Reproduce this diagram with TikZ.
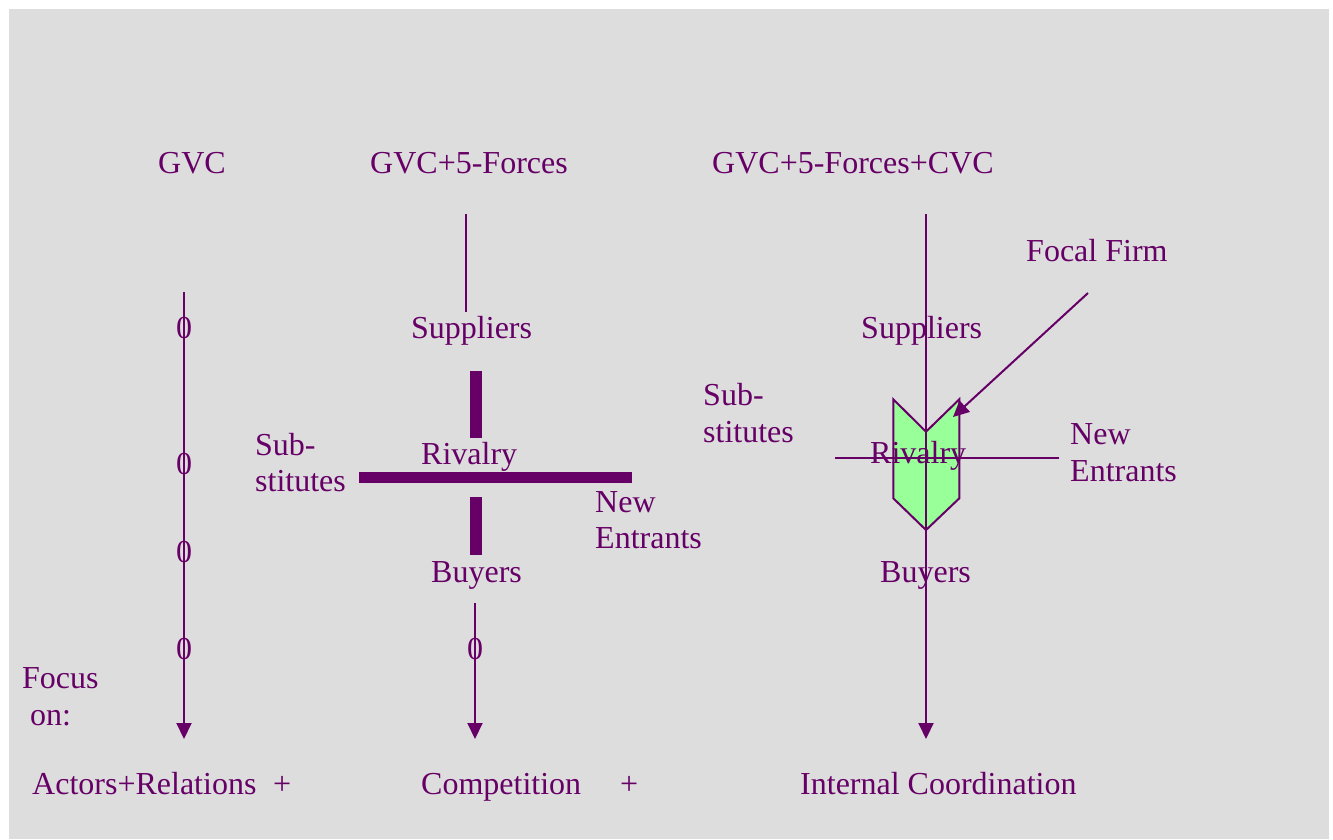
\documentclass[tikz,border=0pt]{standalone}
\usepackage{fontspec}
\setmainfont{Liberation Serif}
\usetikzlibrary{arrows.meta}
\definecolor{plum}{HTML}{660066}
\definecolor{panel}{HTML}{DDDDDD}
\definecolor{mint}{HTML}{99FF99}
\tikzset{
  lbl/.style={anchor=base west, inner sep=0pt, text=plum, font=\fontsize{32}{36.5}\selectfont, align=left},
  zero/.style={anchor=base, inner sep=0pt, text=plum, font=\fontsize{32}{36.5}\selectfont},
  flow/.style={draw=plum, line width=2pt, -{Triangle[width=15pt,length=16pt]}},
  thin/.style={draw=plum, line width=1.2pt},
  bar/.style={draw=plum, line width=11.7pt},
  rule/.style={draw=plum, line width=2pt}
}
\begin{document}
\begin{tikzpicture}[x=1pt,y=-1pt]
\useasboundingbox (0,0) rectangle (1333,839);
\fill[panel] (9,9) rectangle (1329,839);

% column headings
\node[lbl] (h1) at (158,173) {GVC};
\node[lbl] (h2) at (370,173) {GVC+5-Forces};
\node[lbl] (h3) at (712,173) {GVC+5-Forces+CVC};

% ---- column 1: value chain only ----
\coordinate (a1) at (184,292);
\coordinate (a2) at (184,739);
\draw[flow] (a1) -- (a2);
\node[zero] (z1) at (184,338) {0};
\node[zero] (z2) at (184,474) {0};
\node[zero] (z3) at (184,562) {0};
\node[zero] (z4) at (184,659) {0};
% multi-line labels are placed by the baseline of their last line
\node[lbl] (focus) at (22,725) {Focus\\\ on:};
\node[lbl] (f1) at (32,794) {Actors+Relations};
\node[lbl] (p1) at (273,794) {+};

% ---- column 2: value chain plus five forces ----
\coordinate (b1) at (466,214);
\coordinate (b2) at (466,312);
\draw[thin] (b1) -- (b2);
\node[lbl] (sup2) at (411,338) {Suppliers};
\coordinate (v1) at (476,371);
\coordinate (v2) at (476,438);
\coordinate (v3) at (476,497);
\coordinate (v4) at (476,555);
\coordinate (w1) at (359,477.5);
\coordinate (w2) at (632,477.5);
\draw[bar] (v1) -- (v2);
\draw[bar] (v3) -- (v4);
\draw[bar] (w1) -- (w2);
\node[lbl] (riv2) at (421,464) {Rivalry};
\node[lbl] (sub2) at (255,491.5) {Sub-\\stitutes};
\node[lbl] (new2) at (595,548.5) {New\\Entrants};
\node[lbl] (buy2) at (431,582) {Buyers};
\coordinate (b3) at (475,603);
\coordinate (b4) at (475,739);
\draw[flow] (b3) -- (b4);
\node[zero] (z5) at (475,659) {0};
\node[lbl] (f2) at (421,794) {Competition};
\node[lbl] (p2) at (620,794) {+};

% ---- column 3: adding the corporate value chain ----
\fill[mint, draw=plum, line width=2pt, line join=miter]
  (893.3,399.3) -- (926,431.7) -- (959.3,399.3) -- (959.3,498.3)
  -- (926,530) -- (893.3,498.3) -- cycle;
\coordinate (c1) at (926,214);
\coordinate (c2) at (926,739);
\draw[flow] (c1) -- (c2);
\coordinate (d1) at (835,458);
\coordinate (d2) at (1059,458);
\draw[rule] (d1) -- (d2);
\node[lbl] (sup3) at (861,338) {Suppliers};
\node[lbl] (riv3) at (870,463) {Rivalry};
\node[lbl] (sub3) at (703,442) {Sub-\\stitutes};
\node[lbl] (new3) at (1070,481) {New\\Entrants};
\node[lbl] (buy3) at (880,582) {Buyers};
\node[lbl] (focal) at (1026,261) {Focal Firm};
\coordinate (e1) at (1088,293);
\coordinate (e2) at (953,417);
\draw[flow] (e1) -- (e2);
\node[lbl] (f3) at (800,794) {Internal Coordination};
\end{tikzpicture}
\end{document}
